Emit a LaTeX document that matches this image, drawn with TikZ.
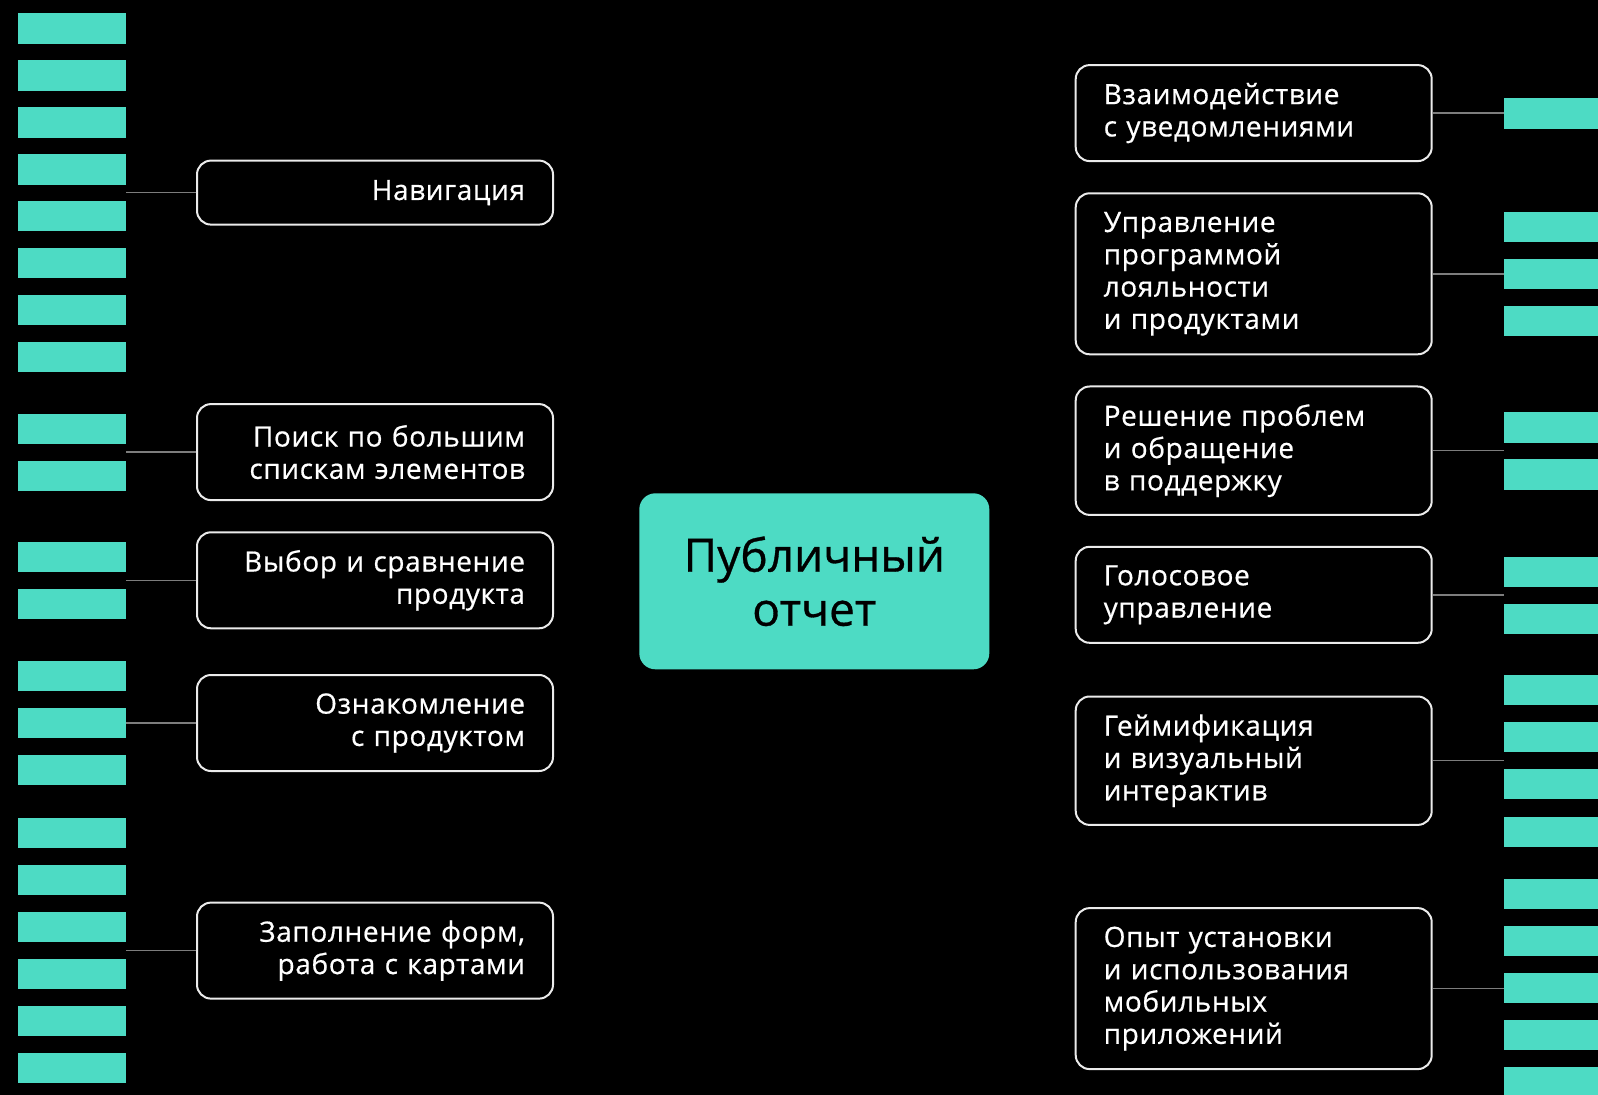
\documentclass[tikz,border=0pt]{standalone}
\usepackage{fontspec}
\setmainfont{Open Sans}
\newfontfamily\topicfont[LetterSpace=2.2,FakeBold=0.6]{Open Sans}
\newfontfamily\hubfont[FakeBold=0.7]{Open Sans}
\usetikzlibrary{positioning}
\definecolor{mint}{RGB}{77,219,196}
\definecolor{linkgray}{RGB}{125,125,125}
\definecolor{edgewhite}{RGB}{235,235,235}

\begin{document}
\begin{tikzpicture}[x=.5pt,y=-.5pt,line width=.5pt,
  topic/.style={draw=edgewhite,line width=1pt,rounded corners=7pt,text=white,text width=150pt,minimum width=178pt,inner xsep=14pt,inner ysep=0pt,font=\topicfont\fontsize{14}{16.15}\selectfont},
  lefttopic/.style={topic,align=right},
  righttopic/.style={topic,align=left},
  hub/.style={fill=mint,rounded corners=8pt,minimum width=175pt,minimum height=88pt,align=center,text=black,font=\hubfont\fontsize{23}{27}\selectfont},
  link/.style={draw=linkgray,line width=.75pt}]
\path[use as bounding box,fill=black] (0,0) rectangle (1598,1095);
% left bars
\fill[mint] (17.5,13.5) rectangle ++(108,30.3);
\fill[mint] (17.5,60.5) rectangle ++(108,30.3);
\fill[mint] (17.5,107.5) rectangle ++(108,30.3);
\fill[mint] (17.5,154.5) rectangle ++(108,30.3);
\fill[mint] (17.5,201) rectangle ++(108,30.3);
\fill[mint] (17.5,248) rectangle ++(108,30.3);
\fill[mint] (17.5,295) rectangle ++(108,30.3);
\fill[mint] (17.5,342) rectangle ++(108,30.3);
\fill[mint] (17.5,414) rectangle ++(108,30.3);
\fill[mint] (17.5,461) rectangle ++(108,30.3);
\fill[mint] (17.5,542) rectangle ++(108,30.3);
\fill[mint] (17.5,589) rectangle ++(108,30.3);
\fill[mint] (17.5,661) rectangle ++(108,30.3);
\fill[mint] (17.5,708) rectangle ++(108,30.3);
\fill[mint] (17.5,755) rectangle ++(108,30.3);
\fill[mint] (17.5,818) rectangle ++(108,30.3);
\fill[mint] (17.5,865) rectangle ++(108,30.3);
\fill[mint] (17.5,912) rectangle ++(108,30.3);
\fill[mint] (17.5,959) rectangle ++(108,30.3);
\fill[mint] (17.5,1006) rectangle ++(108,30.3);
\fill[mint] (17.5,1053) rectangle ++(108,30.3);
% right bars
\fill[mint] (1503.5,98.5) rectangle (1598,128.8);
\fill[mint] (1503.5,212) rectangle (1598,242.3);
\fill[mint] (1503.5,259) rectangle (1598,289.3);
\fill[mint] (1503.5,306) rectangle (1598,336.3);
\fill[mint] (1503.5,412.5) rectangle (1598,442.8);
\fill[mint] (1503.5,459.5) rectangle (1598,489.8);
\fill[mint] (1503.5,556.5) rectangle (1598,586.8);
\fill[mint] (1503.5,603.5) rectangle (1598,633.8);
\fill[mint] (1503.5,675) rectangle (1598,705.3);
\fill[mint] (1503.5,722) rectangle (1598,752.3);
\fill[mint] (1503.5,769) rectangle (1598,799.3);
\fill[mint] (1503.5,816.5) rectangle (1598,846.8);
\fill[mint] (1503.5,879) rectangle (1598,909.3);
\fill[mint] (1503.5,926) rectangle (1598,956.3);
\fill[mint] (1503.5,973) rectangle (1598,1003.3);
\fill[mint] (1503.5,1020) rectangle (1598,1050.3);
\fill[mint] (1503.5,1067) rectangle (1598,1095);
% centre
\node[hub] (report) at (814.3,581.3) {Публичный\\отчет};
% left topics
\node[lefttopic,minimum height=32pt] (navig) at (375,192.6) {Навигация};
\node[lefttopic,minimum height=48pt] (search) at (375,452.1) {Поиск по большим\\спискам элементов};
\node[lefttopic,minimum height=48pt] (choice) at (375,580.3) {Выбор и сравнение\\продукта};
\node[lefttopic,minimum height=48pt] (intro) at (375,723) {Ознакомление\\с продуктом};
\node[lefttopic,minimum height=48pt] (forms) at (375,950.6) {Заполнение форм,\\работа с картами};
% right topics
\node[righttopic,minimum height=48pt] (notif) at (1253.7,113.1) {Взаимодействие\\с уведомлениями};
\node[righttopic,minimum height=80.5pt] (loyal) at (1253.7,273.8) {Управление\\программой\\лояльности\\и продуктами};
\node[righttopic,minimum height=64.2pt] (support) at (1253.7,450.7) {Решение проблем\\и обращение\\в поддержку};
\node[righttopic,minimum height=48pt] (voice) at (1253.7,594.8) {Голосовое\\управление};
\node[righttopic,minimum height=64.2pt] (gamif) at (1253.7,760.7) {Геймификация\\и визуальный\\интерактив};
\node[righttopic,minimum height=80.5pt] (apps) at (1253.7,988.6) {Опыт установки\\и использования\\мобильных\\приложений};
% link ends at the bars
\coordinate (navigend) at (125.5,192.6);
\coordinate (searchend) at (125.5,452.1);
\coordinate (choiceend) at (125.5,580.3);
\coordinate (introend) at (125.5,723);
\coordinate (formsend) at (125.5,950.6);
\coordinate (notifend) at (1503.5,113.1);
\coordinate (loyalend) at (1503.5,273.8);
\coordinate (supportend) at (1503.5,450.7);
\coordinate (voiceend) at (1503.5,594.8);
\coordinate (gamifend) at (1503.5,760.7);
\coordinate (appsend) at (1503.5,988.6);
\draw[link] (navig.west) -- (navigend);
\draw[link] (search.west) -- (searchend);
\draw[link] (choice.west) -- (choiceend);
\draw[link] (intro.west) -- (introend);
\draw[link] (forms.west) -- (formsend);
\draw[link] (notif.east) -- (notifend);
\draw[link] (loyal.east) -- (loyalend);
\draw[link] (support.east) -- (supportend);
\draw[link] (voice.east) -- (voiceend);
\draw[link] (gamif.east) -- (gamifend);
\draw[link] (apps.east) -- (appsend);
\end{tikzpicture}
\end{document}
